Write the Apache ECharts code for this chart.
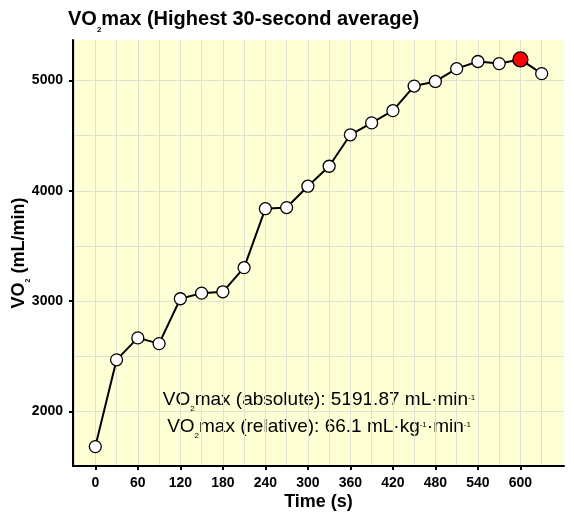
<!DOCTYPE html>
<html>
<head>
<meta charset="utf-8">
<script src="https://cdn.jsdelivr.net/npm/echarts@6/dist/echarts.min.js"></script>
<style>
html,body{margin:0;padding:0;background:#fff;}
#main{width:574px;height:522px;}
</style>
</head>
<body>
<div id="main"></div>
<script>
// 数据
var timeSec = [0, 30, 60, 90, 120, 150, 180, 210, 240, 270, 300, 330, 360, 390, 420, 450, 480, 510, 540, 570, 600, 630];
var vo2 = [1680, 2467, 2666, 2614, 3021, 3072, 3084, 3303, 3838, 3848, 4042, 4223, 4508, 4616, 4727, 4950, 4992, 5108, 5173, 5154, 5191.87, 5063];
var xTicks = [0, 60, 120, 180, 240, 300, 360, 420, 480, 540, 600];
var xMinor = [-30, 30, 90, 150, 210, 270, 330, 390, 450, 510, 570, 630];
var yTicks = [2000, 3000, 4000, 5000];
var yMinor = [2500, 3500, 4500];

var FONT = 'Liberation Sans';
var gridColor = '#e0e0cc';

var lineData = [];
var peakIdx = 0;
for (var i = 0; i < timeSec.length; i++) {
	lineData.push([timeSec[i], vo2[i]]);
	if (vo2[i] > vo2[peakIdx]) peakIdx = i;
}
var peakData = [[timeSec[peakIdx], vo2[peakIdx]]];

// 注释文字的上下标样式
var noteRich = {
	sub: { fontFamily: FONT, fontSize: 8, fill: '#000', verticalAlign: 'top', height: 37, lineHeight: 8 },
	sup: { fontFamily: FONT, fontSize: 8, fill: '#000', verticalAlign: 'top', height: 15, lineHeight: 8 }
};

var myChart = echarts.init(document.getElementById('main'));
var option = {
	animation: false,
	backgroundColor: '#ffffff',
	title: {
		left: 68,
		top: 9,
		padding: 0,
		text: 'VO{sub|2}max (Highest 30-second average)',
		textStyle: {
			fontFamily: FONT,
			fontSize: 20,
			fontWeight: 'bold',
			color: '#000',
			rich: {
				sub: { fontFamily: FONT, fontSize: 8, fontWeight: 'bold', color: '#000', verticalAlign: 'top', height: 42, lineHeight: 8 }
			}
		}
	},
	grid: {
		left: 73,
		right: 10,
		top: 40,
		bottom: 56,
		outerBoundsMode: 'none',
		show: true,
		backgroundColor: '#ffffd6',
		borderWidth: 0
	},
	xAxis: [
		{
			type: 'value',
			min: -31.5,
			max: 661.5,
			name: 'Time (s)',
			nameLocation: 'middle',
			nameGap: 27,
			nameMoveOverlap: false,
			nameTextStyle: { fontFamily: FONT, fontSize: 18, fontWeight: 'bold', color: '#000' },
			axisLine: { show: true, onZero: false, lineStyle: { color: '#000', width: 2 } },
			axisTick: { show: true, length: 4, customValues: xTicks, lineStyle: { color: '#000', width: 2 } },
			axisLabel: {
				customValues: xTicks, margin: 10, fontFamily: FONT, fontSize: 14, fontWeight: 'bold', color: '#000',
				formatter: function (v) { return String(v); }
			},
			splitLine: { show: true, lineStyle: { color: gridColor, width: 1 } }
		},
		{
			type: 'value',
			min: -31.5,
			max: 661.5,
			axisLine: { show: false },
			axisTick: { show: false, customValues: xMinor },
			axisLabel: { show: false, customValues: xMinor },
			splitLine: { show: true, lineStyle: { color: gridColor, width: 1 } }
		}
	],
	yAxis: [
		{
			type: 'value',
			min: 1504,
			max: 5368,
			name: 'VO{sub|2} (mL/min)',
			nameLocation: 'middle',
			nameRotate: 90,
			nameGap: 45,
			nameMoveOverlap: false,
			nameTextStyle: {
				fontFamily: FONT, fontSize: 18, fontWeight: 'bold', color: '#000',
				rich: {
					sub: { fontFamily: FONT, fontSize: 7, fontWeight: 'bold', color: '#000', verticalAlign: 'top', height: 37, lineHeight: 7 }
				}
			},
			axisLine: { show: true, onZero: false, lineStyle: { color: '#000', width: 2 } },
			axisTick: { show: true, length: 4, customValues: yTicks, lineStyle: { color: '#000', width: 2 } },
			axisLabel: {
				customValues: yTicks, margin: 10, fontFamily: FONT, fontSize: 14, fontWeight: 'bold', color: '#000',
				formatter: function (v) { return String(v); }
			},
			splitLine: { show: true, lineStyle: { color: gridColor, width: 1 } }
		},
		{
			type: 'value',
			min: 1504,
			max: 5368,
			position: 'left',
			axisLine: { show: false },
			axisTick: { show: false, customValues: yMinor },
			axisLabel: { show: false, customValues: yMinor },
			splitLine: { show: true, lineStyle: { color: gridColor, width: 1 } }
		}
	],
	graphic: [
		{
			type: 'text',
			x: 319,
			y: 399.5,
			style: {
				text: 'VO{sub|2}max (absolute): 5191.87 mL·min{sup|-1}',
				align: 'center',
				verticalAlign: 'middle',
				fontFamily: FONT,
				fontSize: 19,
				fill: '#000',
				rich: noteRich
			}
		},
		{
			type: 'text',
			x: 319,
			y: 426.5,
			style: {
				text: 'VO{sub|2}max (relative): 66.1 mL·kg{sup|-1}·min{sup|-1}',
				align: 'center',
				verticalAlign: 'middle',
				fontFamily: FONT,
				fontSize: 19,
				fill: '#000',
				rich: noteRich
			}
		}
	],
	series: [
		{
			type: 'line',
			xAxisIndex: 0,
			yAxisIndex: 0,
			data: lineData,
			symbol: 'circle',
			symbolSize: 12,
			showSymbol: true,
			lineStyle: { color: '#000', width: 2 },
			itemStyle: { color: '#ffffff', borderColor: '#000', borderWidth: 1.3 },
			z: 3
		},
		{
			type: 'scatter',
			xAxisIndex: 0,
			yAxisIndex: 0,
			data: peakData,
			symbol: 'circle',
			symbolSize: 15,
			itemStyle: { color: '#ff0000', borderColor: '#000', borderWidth: 1.3, opacity: 1 },
			z: 4
		}
	]
};
myChart.setOption(option);
</script>
</body>
</html>
